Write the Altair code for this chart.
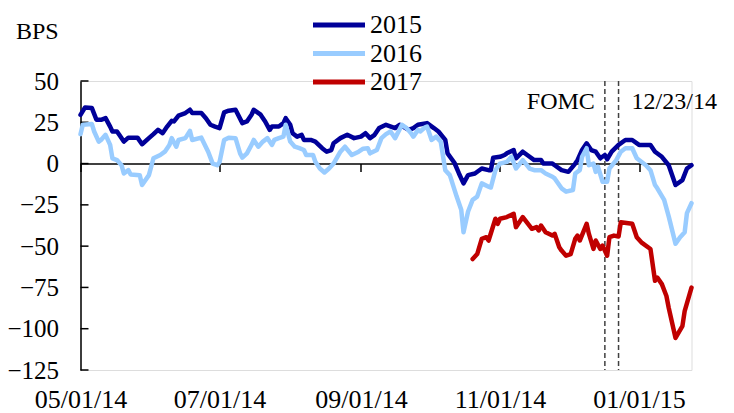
import altair as alt
import pandas as pd

# ---- data ----
START = "2014-05-01"
series_names = ["2015", "2016", "2017"]
series_colors = ["#000099", "#99CCFF", "#C00000"]

# day offsets from 05/01/14 and values in basis points
d15_days = [0,2,5,7,9,11,13,14,16,17,19,21,25,27,30,32,34,36,38,40,41,43,46,48,49,53,55,57,59,61,
            63,65,68,71,73,75,76,79,81,83,84,87,89,90,92,93,95,97,98,101,103,106,108,110,111,114,117,120,123,125,
            127,129,131,134,138,140,144,146,148,152,155,157,160,161,164,166,168,170,173,176,179,180,181,184,186,187,190,191,194,197,
            199,202,203,207,208,211,214,217,218,220,222,224,226,228,230,231,233,236,239,242,245,250,252,255,258,261,264,266,268]
d15_vals = [29.5,34,33.6,26.5,26.5,27.5,22.4,19.4,19.4,17.4,13.3,15.7,15.7,11.7,15.4,17.8,20.4,18.4,22.4,25.9,
            25.5,29.1,30.6,32.6,30.6,30.6,27.5,23.5,22.4,21.5,31,32,32.6,24.5,25.5,29.6,32.6,29.6,25.5,20.4,
            22.4,22.4,24.5,27.5,23.5,18.4,16.3,17.4,14.3,14.3,13.3,9.3,7.2,8.2,12.3,15.4,17.4,15.4,16.3,18.4,
            15.4,17.4,21.5,23.5,21.5,23.5,20.4,21.5,23.5,24.5,21.5,19.4,14.3,6.2,0.5,-6,-12,-7,-6,-3,
            -4,-4,3.5,4.1,5.2,6.2,8.2,3.2,7.2,4.1,2.1,2.1,0,0,-1,-4,-5,0,2,8.2,
            12.3,8.2,7.2,3.2,5.2,2.6,7.2,11.3,14.3,14.3,11.3,11.3,7.2,4.1,-1,-13,-10,-3,-1]

d16_days = [0,1,5,6,8,9,11,13,14,16,18,19,21,22,26,27,30,32,35,37,39,40,42,43,46,48,49,53,56,58,
            60,61,63,65,68,70,71,73,75,76,78,80,82,84,85,87,89,90,92,94,96,98,99,102,103,105,107,109,111,114,
            116,119,122,124,126,127,130,132,134,136,138,141,143,145,146,148,149,151,152,154,156,158,160,162,165,167,168,170,172,174,
            176,179,180,182,184,187,189,191,194,197,199,202,204,207,208,211,213,216,217,219,220,222,223,225,226,227,229,231,232,235,
            237,239,242,244,248,250,252,253,256,258,261,263,265,266,268]
d16_vals = [17.8,23.5,23.9,19.4,13.3,14.3,17.4,11.3,3.2,2.1,-1,-6,-4,-6.6,-7,-13,-7,3.2,5.2,7.2,
            11.3,15.4,10.2,14.3,15.4,19.8,14.3,15.7,7.2,0,-1,1,14.3,15.7,15.4,6.2,3.6,6.2,11.3,14.3,
            10.2,13.3,15.4,11.3,14.3,15.4,16.3,23.5,13.3,10.2,9.3,8.2,5.2,5.2,1.1,-3,-5.4,-3,0,7.2,
            10.2,5.2,7.2,9,9.3,6.2,8.2,15.4,17.8,19.4,15.4,23.5,21.5,18.4,16.3,20.4,19.4,21.8,22.4,14.3,
            16.3,13.3,-4,-7,-20,-28,-41.6,-29,-22,-20,-12,-14,-14.5,-4,0,1,4.1,-3,2.1,-3,
            -4,-4,-6,-8,-9,-15,-17,-16,-6,-4,4.1,9.3,-1,0,-5,-2,-11,-11,-3,2.1,
            7.2,9.3,9.3,3.2,-1,-4,-13,-15,-22,-32,-48.6,-44.6,-41.6,-30,-24]

d17_days = [172,174,176,178,179,182,183,184,187,190,191,194,198,200,201,202,204,207,208,210,
            211,213,215,217,218,219,222,223,225,226,228,229,231,232,234,236,237,242,244,246,
            250,252,253,255,257,258,261,264,265,268]
d17_vals = [-57.8,-54.8,-45.6,-44.6,-46.6,-33.4,-36.5,-33.4,-32.4,-30.4,-38.5,-32.4,-39.5,-38.5,-40.5,-37.5,-41.6,-43.6,-42.6,-50.7,
            -52.7,-55.8,-54.8,-45.6,-43.6,-46.6,-36.5,-42.6,-51.7,-46.6,-51.7,-49.7,-55.8,-44.6,-43.6,-44.2,-35.5,-36.5,-44.6,-47.7,
            -51.7,-71,-69,-73,-80.2,-87.3,-105.6,-98.5,-89.3,-75.1]

y_ticks = [-125, -100, -75, -50, -25, 0, 25, 50]
x_tick_dates = [(2014, 5, 1), (2014, 7, 1), (2014, 9, 1), (2014, 11, 1), (2015, 1, 1)]
x_end = (2015, 1, 24)
event_dates = ["2014-12-17", "2014-12-23"]
event_labels = ["FOMC", "12/23/14"]

# ---- build tables ----
start = pd.Timestamp(START)
frames = []
for name, days, vals in [("2015", d15_days, d15_vals), ("2016", d16_days, d16_vals), ("2017", d17_days, d17_vals)]:
    dates = [(start + pd.Timedelta(days=d)).strftime("%Y-%m-%d") for d in days]
    frames.append(pd.DataFrame({"date": dates, "value": vals, "series": name}))
df = pd.concat(frames, ignore_index=True)
events = pd.DataFrame({"date": event_dates, "label": event_labels})
ticks_df = pd.DataFrame({"v": y_ticks})

FONT = "Liberation Serif"
W, H = 611, 289
Y_MIN, Y_MAX = -125, 50
zero_px = H * Y_MAX / (Y_MAX - Y_MIN)

def dt(t):
    return alt.DateTime(year=t[0], month=t[1], date=t[2], utc=True)

x_scale = alt.Scale(type="utc", domain=[dt(x_tick_dates[0]), dt(x_end)])
y_scale = alt.Scale(domain=[Y_MIN, Y_MAX], nice=False, zero=False)

x_axis = alt.Axis(
    values=[dt(t) for t in x_tick_dates],
    labelExpr="utcFormat(datum.value, '%m/%d/%y')",
    offset=-(H - zero_px),
    tickSize=8, tickWidth=1.5, tickColor="black",
    domainColor="black", domainWidth=1.5,
    labelPadding=215, labelFontSize=26, labelFont=FONT, labelColor="black",
    labelFlush=False, labelOverlap=False, grid=False, title=None,
)
y_axis = alt.Axis(
    values=y_ticks, ticks=False, domainColor="black", domainWidth=1.5,
    labelPadding=22, labelFontSize=25, labelFont=FONT, labelColor="black", grid=False,
    title="BPS", titleAngle=0, titleAlign="left", titleBaseline="middle",
    titleX=-65, titleY=-50, titleFont=FONT, titleFontSize=24, titleFontWeight="normal",
    titleColor="black",
)

lines = alt.Chart(df).mark_line(strokeWidth=4.5, strokeJoin="round", strokeCap="round").encode(
    x=alt.X("date:T", scale=x_scale, axis=x_axis),
    y=alt.Y("value:Q", scale=y_scale, axis=y_axis),
    color=alt.Color(
        "series:N",
        scale=alt.Scale(domain=series_names, range=series_colors),
        legend=alt.Legend(
            title=None, orient="none", legendX=245.5, legendY=-69, padding=0,
            symbolType="M-2.6,0H2.6", symbolSize=400, symbolStrokeWidth=5,
            labelFontSize=26, labelFont=FONT, labelColor="black", labelOffset=18,
            rowPadding=2.5,
        ),
    ),
)

ytick_marks = alt.Chart(ticks_df).mark_rule(color="black", strokeWidth=1.5).encode(
    y=alt.Y("v:Q", scale=y_scale), x=alt.value(0), x2=alt.value(8)
)

event_rules = alt.Chart(events).mark_rule(strokeDash=[5, 3], color="#404040", strokeWidth=1.5).encode(
    x=alt.X("date:T", scale=x_scale)
)
fomc_text = alt.Chart(events).transform_filter(alt.datum.label == "FOMC").mark_text(
    align="right", baseline="middle", dx=-10, fontSize=24, font=FONT, color="black"
).encode(x=alt.X("date:T", scale=x_scale), y=alt.datum(37), text="label:N")
date_text = alt.Chart(events).transform_filter(alt.datum.label != "FOMC").mark_text(
    align="left", baseline="middle", dx=13, fontSize=24, font=FONT, color="black"
).encode(x=alt.X("date:T", scale=x_scale), y=alt.datum(37), text="label:N")

chart = alt.layer(event_rules, ytick_marks, lines, fomc_text, date_text).properties(
    width=W, height=H,
    autosize=alt.AutoSizeParams(type="none"),
    padding={"left": 72.5, "top": 73, "right": 34.5, "bottom": 52},
).configure_view(stroke=None).configure(font=FONT)

chart.save("out.html", embed_options={"renderer": "svg", "actions": False})
